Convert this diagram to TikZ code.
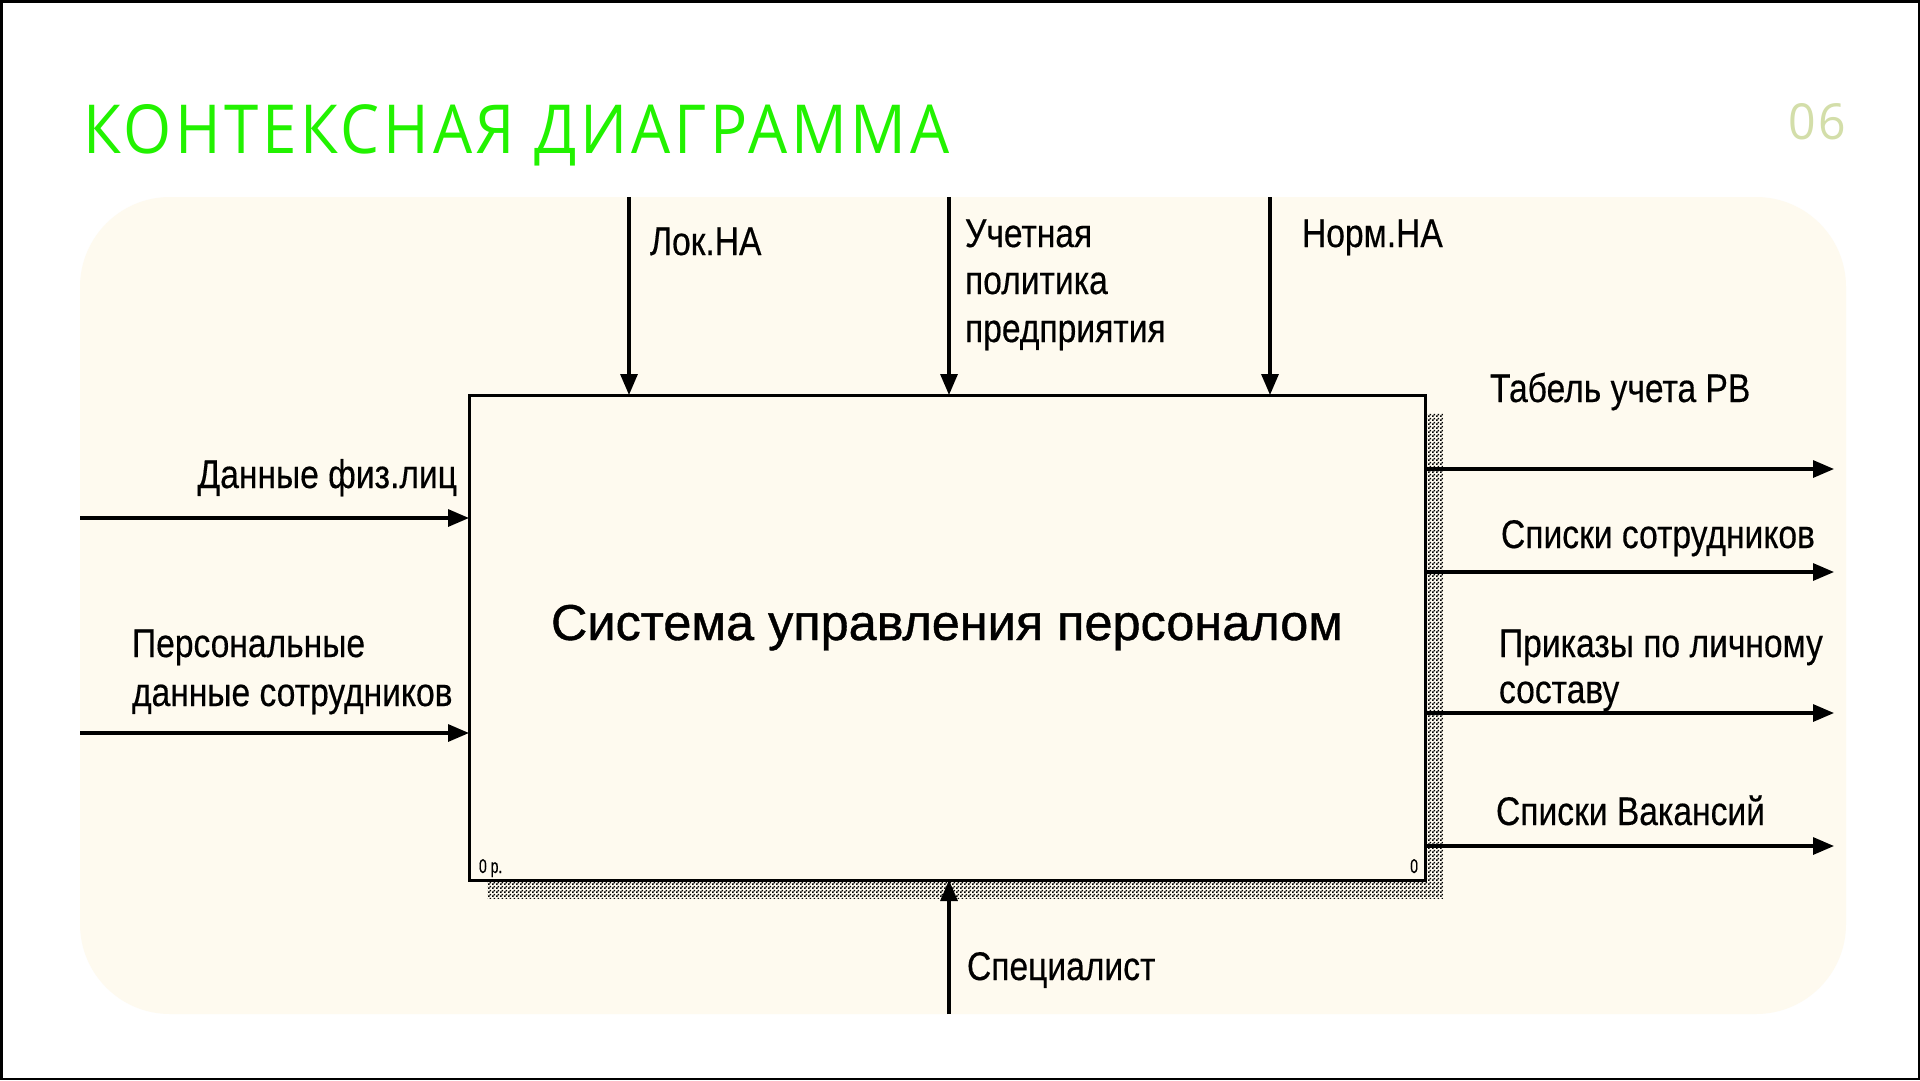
\documentclass[tikz,border=0pt]{standalone}
\usepackage{fontspec}
\setmainfont[FakeBold=0.4]{Liberation Sans}
\newfontfamily\boxfont[FakeBold=0.8]{Liberation Sans}
\newfontfamily\titlefont[LetterSpace=6]{Open Sans}
\usetikzlibrary{arrows.meta,patterns}
\definecolor{cream}{HTML}{FEFAEF}
\definecolor{titlegreen}{HTML}{22F200}
\definecolor{numgreen}{HTML}{D3DEA9}
\pgfdeclarepatternformonly{idefshadow}{\pgfqpoint{0pt}{0pt}}{\pgfqpoint{4pt}{4pt}}{\pgfqpoint{4pt}{4pt}}{%
  \pgfpathrectangle{\pgfqpoint{0pt}{0pt}}{\pgfqpoint{2pt}{2pt}}%
  \pgfpathrectangle{\pgfqpoint{2pt}{2pt}}{\pgfqpoint{2pt}{2pt}}%
  \pgfusepath{fill}}
\newcommand{\cnd}[1]{\scalebox{0.84}[1]{#1}}
\begin{document}
\begin{tikzpicture}[x=1pt,y=-1pt,
  lbl/.style={font=\fontsize{40}{47}\selectfont, inner sep=0pt, outer sep=0pt, anchor=base west},
  lblr/.style={lbl, anchor=base east},
  flow/.style={line width=3.2pt, -{Triangle[length=21pt 0 0,width=17pt 0 0]}},
  corner/.style={font=\fontsize{20}{22}\selectfont, inner sep=0pt, outer sep=0pt}]
\useasboundingbox (0,0) rectangle (1920,1080);
\fill[white] (0,0) rectangle (1920,1080);
% panel
\fill[cream, rounded corners=90pt] (80,197) rectangle (1846,1014);
% frame
\draw[line width=2.5pt] (1.25,1.25) rectangle (1918.75,1078.75);
% title and page number
\node[anchor=base west, inner sep=0pt, text=titlegreen] (title) at (83,153)
  {\resizebox{866pt}{49pt}{\titlefont КОНТЕКСНАЯ ДИАГРАММА}};
\node[anchor=base west, inner sep=0pt, text=numgreen] (num) at (1788,139)
  {\resizebox{58pt}{36pt}{\titlefont 06}};
% shadow
\fill[pattern=idefshadow, pattern color=black] (487,413) rectangle (1443,898);
% main box
\node[draw, line width=3pt, fill=cream, minimum width=956pt, minimum height=485pt,
      inner sep=0pt, outer sep=0pt] (box) at (947,637.5) {};
\node[anchor=base, inner sep=0pt] (boxtext) at (947,640)
  {\resizebox{792pt}{!}{\boxfont\fontsize{53}{60}\selectfont Система управления персоналом}};
\node[corner, anchor=base west] (nodeno) at (479,873) {\scalebox{0.7}[1]{0 р.}};
\node[corner, anchor=base east] (boxno) at (1418,873) {\scalebox{0.7}[1]{0}};
% controls
\coordinate (c1) at (629,197);
\coordinate (c2) at (949,197);
\coordinate (c3) at (1270,197);
\draw[flow] (c1) -- (c1 |- box.north);
\draw[flow] (c2) -- (c2 |- box.north);
\draw[flow] (c3) -- (c3 |- box.north);
\node[lbl] (lc1) at (650,255) {\cnd{Лок.НА}};
\node[lbl] (lc2a) at (965,247) {\cnd{Учетная}};
\node[lbl] (lc2b) at (965,294) {\cnd{политика}};
\node[lbl] (lc2c) at (965,342) {\cnd{предприятия}};
\node[lbl] (lc3) at (1302,247) {\cnd{Норм.НА}};
% inputs
\coordinate (i1) at (80,518);
\coordinate (i2) at (80,733);
\draw[flow] (i1) -- (i1 -| box.west);
\draw[flow] (i2) -- (i2 -| box.west);
\node[lblr] (li1) at (457,488) {\cnd{Данные физ.лиц}};
\node[lbl] (li2a) at (132,657) {\cnd{Персональные}};
\node[lbl] (li2b) at (132,706) {\cnd{данные сотрудников}};
% outputs
\coordinate (o1) at (1834,469);
\coordinate (o2) at (1834,572);
\coordinate (o3) at (1834,713);
\coordinate (o4) at (1834,846);
\draw[flow] (o1 -| box.east) -- (o1);
\draw[flow] (o2 -| box.east) -- (o2);
\draw[flow] (o3 -| box.east) -- (o3);
\draw[flow] (o4 -| box.east) -- (o4);
\node[lbl] (lo1) at (1490,402) {\cnd{Табель учета РВ}};
\node[lbl] (lo2) at (1501,548) {\cnd{Списки сотрудников}};
\node[lbl] (lo3a) at (1499,657) {\cnd{Приказы по личному}};
\node[lbl] (lo3b) at (1499,703) {\cnd{составу}};
\node[lbl] (lo4) at (1496,825) {\cnd{Списки Вакансий}};
% mechanism
\coordinate (m) at (949,1014);
\draw[flow] (m) -- (m |- box.south);
\node[lbl] (lm) at (967,980) {\cnd{Специалист}};
\end{tikzpicture}
\end{document}
